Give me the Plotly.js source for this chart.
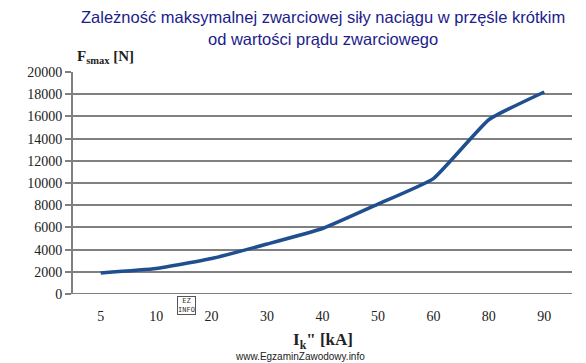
<!DOCTYPE html>
<html><head><meta charset="utf-8">
<script src="https://cdn.plot.ly/plotly-3.0.1.min.js"></script>
<style>html,body{margin:0;padding:0;background:#fff}</style>
</head><body>
<div id="chart" style="width:586px;height:363px"></div>
<script>
const categories = ["5", "10", "20", "30", "40", "50", "60", "80", "90"];
const forceN = [1900, 2300, 3200, 4500, 5900, 8100, 10400, 15700, 18200];
const yTicks = [0, 2000, 4000, 6000, 8000, 10000, 12000, 14000, 16000, 18000, 20000];

const trace = {
  x: categories, y: forceN, type: 'scatter', mode: 'lines',
  line: {color: '#1f4f8f', width: 3.5, shape: 'spline', smoothing: 0.4},
  hoverinfo: 'skip'
};
const tickFont = {family: '"Liberation Serif", "DejaVu Serif", serif', size: 14, color: '#222'};
const titleFont = {family: '"Liberation Sans", Arial, sans-serif', size: 16.5, color: '#1c1c8c'};
const layout = {
  width: 586, height: 363,
  margin: {l: 73, r: 14, t: 72, b: 69},
  paper_bgcolor: '#fff', plot_bgcolor: '#fff',
  showlegend: false,
  xaxis: {
    type: 'category', tickvals: categories, ticktext: categories,
    range: [-0.5, categories.length - 0.5],
    showgrid: false, zeroline: false, showline: false, ticks: '',
    tickfont: tickFont, ticklabelstandoff: 12, fixedrange: true
  },
  yaxis: {
    range: [0, 20000], tickvals: yTicks, ticktext: yTicks.map(String),
    showgrid: true, gridcolor: '#808080', gridwidth: 2,
    zeroline: false, showline: true, linecolor: '#808080', linewidth: 2,
    ticks: 'outside', ticklen: 6, tickwidth: 2, tickcolor: '#808080',
    tickfont: tickFont, fixedrange: true
  },
  shapes: [
    {type: 'line', xref: 'paper', yref: 'y', x0: 0, x1: 1, y0: 0, y1: 0, line: {color: '#808080', width: 2}}
  ],
  annotations: [
    {xref: 'paper', yref: 'paper', x: 0.5, y: 1, yshift: 55, xanchor: 'center', yanchor: 'middle', showarrow: false,
     text: 'Zależność maksymalnej zwarciowej siły naciągu w przęśle krótkim', font: titleFont},
    {xref: 'paper', yref: 'paper', x: 0.5, y: 1, yshift: 33, xanchor: 'center', yanchor: 'middle', showarrow: false,
     text: 'od wartości prądu zwarciowego', font: titleFont},
    {xref: 'paper', yref: 'paper', x: 0.0, y: 1.0, yshift: 4, xshift: 2, xanchor: 'left', yanchor: 'bottom', showarrow: false,
     text: '<b>F<sub>smax</sub> [N]</b>', font: {family: '"Liberation Serif", serif', size: 15, color: '#222'}},
    {xref: 'paper', yref: 'paper', x: 0.5, y: 0, yshift: -34, xanchor: 'center', yanchor: 'top', showarrow: false,
     text: '<b>I<sub>k</sub>" [kA]</b>', font: {family: '"Liberation Serif", serif', size: 17, color: '#222'}},
    {xref: 'paper', yref: 'paper', x: 0.455, y: 0, yshift: -62, xanchor: 'center', yanchor: 'middle', showarrow: false,
     text: 'www.EgzaminZawodowy.info', font: {family: '"Liberation Sans", Arial, sans-serif', size: 10, color: '#222'}},
    {xref: 'paper', yref: 'paper', x: 0.228, y: 0, yshift: -2, xanchor: 'center', yanchor: 'top', showarrow: false,
     text: 'EZ<br>INFO', bordercolor: '#555', borderwidth: 1, borderpad: 0,
     font: {family: '"DejaVu Sans Mono", monospace', size: 7, color: '#333'}}
  ]
};
Plotly.newPlot('chart', [trace], layout, {staticPlot: true, displayModeBar: false});
</script>
</body></html>
